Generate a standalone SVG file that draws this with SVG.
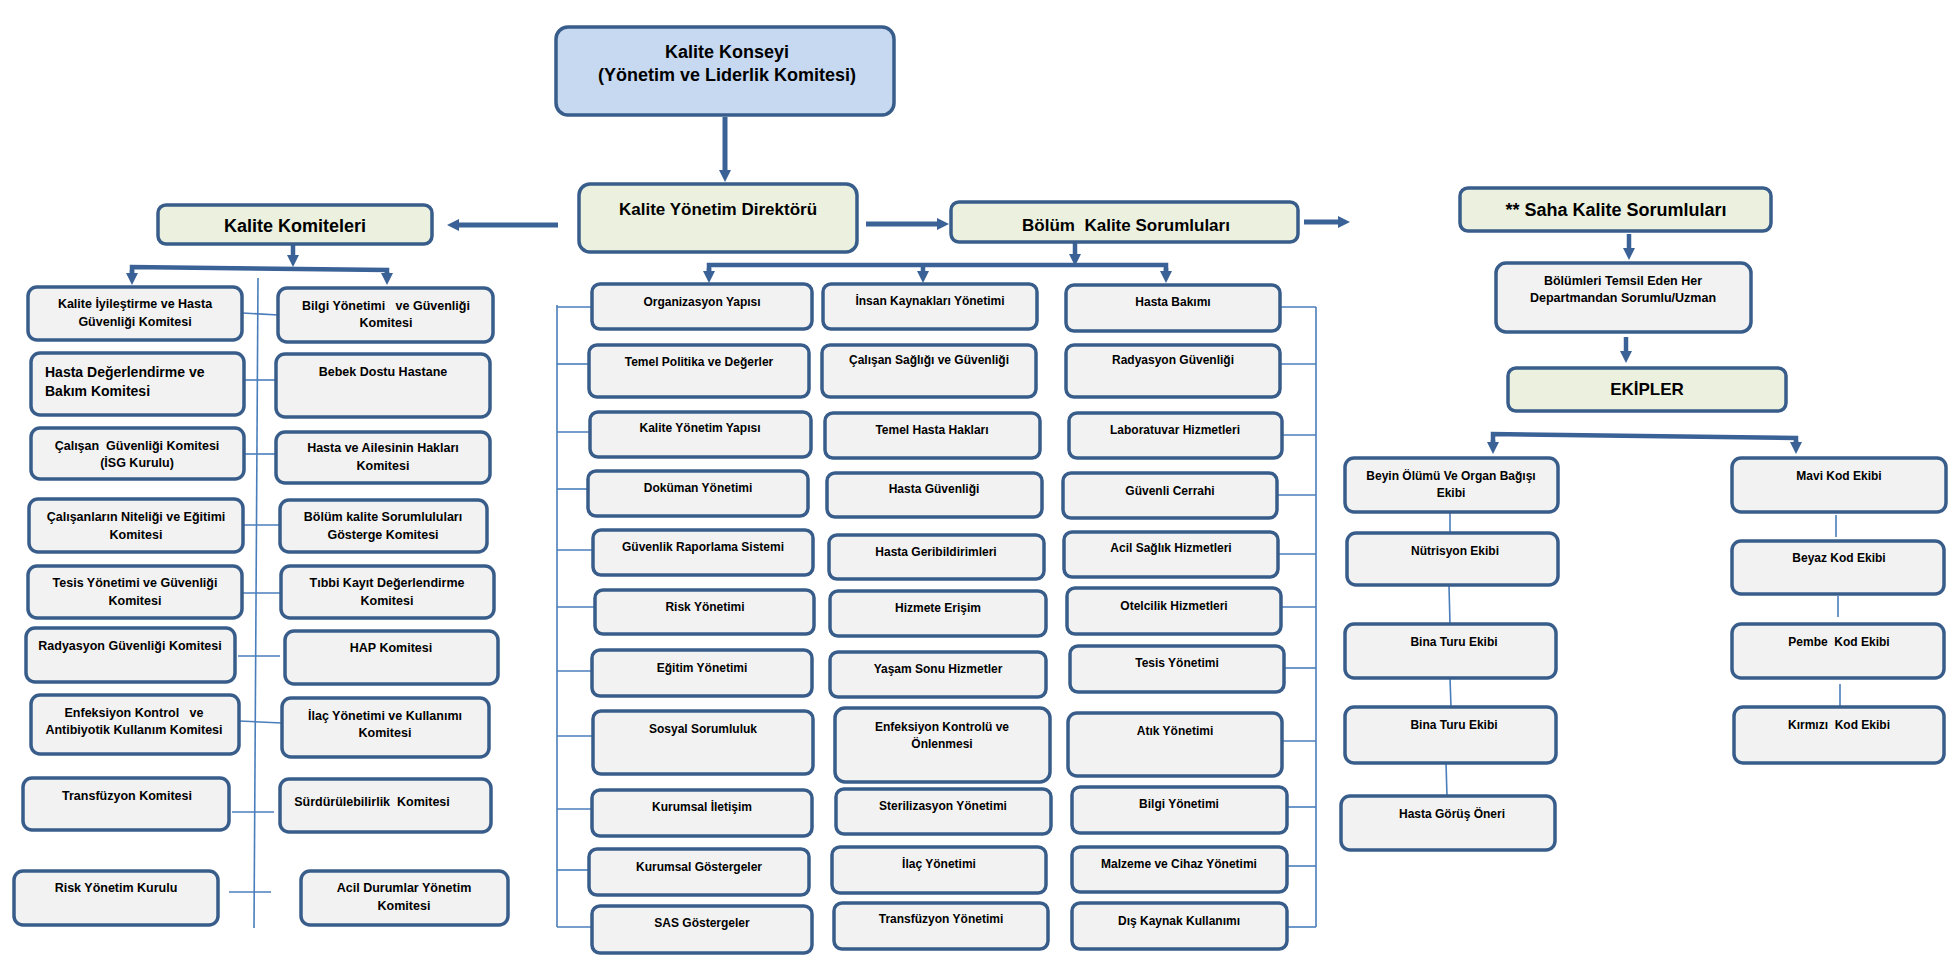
<svg xmlns="http://www.w3.org/2000/svg" width="1960" height="976" viewBox="0 0 1960 976">
<style>
rect{stroke:#385d8a;stroke-width:3.5}
.b{fill:#f2f2f2}
.h{fill:#ebf1de}
.k{fill:#c6d9f1}
text{font-family:"Liberation Sans",Arial,sans-serif;font-weight:bold;fill:#000;text-anchor:middle}
.s12{font-size:12px}
.s125{font-size:12.5px}
.s14{font-size:14px;text-anchor:start}
.s17{font-size:17px}
.s18{font-size:18px}
.c line,.c polyline{stroke:#4a7ebb;stroke-width:1.6;fill:none}
.c .a{stroke:#3a6296;stroke-width:5;fill:none}
.c .a4{stroke:#3a6296;stroke-width:4.5;fill:none}
</style>
<defs>
<marker id="ah" viewBox="0 0 12 12" refX="4" refY="6" markerWidth="12" markerHeight="12" markerUnits="userSpaceOnUse" orient="auto">
<path d="M0,0 L12,6 L0,12 z" fill="#3a6296"/>
</marker>
</defs>
<rect width="1960" height="976" fill="#fff" style="stroke:none"/>

<g class="c" id="connectors">
<!-- thick arrows -->
<line class="a" x1="725" y1="117" x2="725" y2="174" marker-end="url(#ah)"/>
<line class="a" x1="866" y1="224" x2="941" y2="224" marker-end="url(#ah)"/>
<line class="a" x1="1304" y1="222" x2="1342" y2="222" marker-end="url(#ah)"/>
<line class="a" x1="558" y1="225" x2="455" y2="225" marker-end="url(#ah)"/>
<!-- Kalite Komiteleri branch -->
<line class="a4" x1="293" y1="245" x2="293" y2="259" marker-end="url(#ah)"/>
<polyline class="a4" points="132,277 132,267 387,270 387,277"/>
<line class="a4" x1="132" y1="270" x2="132" y2="277" marker-end="url(#ah)"/>
<line class="a4" x1="387" y1="272" x2="387" y2="277" marker-end="url(#ah)"/>
<!-- Bolum branch -->
<line class="a4" x1="1075" y1="243" x2="1075" y2="258" marker-end="url(#ah)"/>
<polyline class="a4" points="709,275 709,265 1166,265 1166,275"/>
<line class="a4" x1="923" y1="265" x2="923" y2="275" marker-end="url(#ah)"/>
<line class="a4" x1="709" y1="268" x2="709" y2="275" marker-end="url(#ah)"/>
<line class="a4" x1="1166" y1="268" x2="1166" y2="275" marker-end="url(#ah)"/>
<!-- Saha branch -->
<line class="a4" x1="1629" y1="234" x2="1629" y2="252" marker-end="url(#ah)"/>
<line class="a4" x1="1626" y1="337" x2="1626" y2="355" marker-end="url(#ah)"/>
<polyline class="a4" points="1493,446 1493,434 1796,438 1796,446"/>
<line class="a4" x1="1493" y1="440" x2="1493" y2="446" marker-end="url(#ah)"/>
<line class="a4" x1="1796" y1="441" x2="1796" y2="446" marker-end="url(#ah)"/>
<!-- left committees spine -->
<line x1="258" y1="278" x2="254" y2="928"/>
<line x1="242" y1="313" x2="278" y2="315"/>
<line x1="244" y1="380" x2="276" y2="380"/>
<line x1="244" y1="454" x2="276" y2="454"/>
<line x1="243" y1="525" x2="280" y2="525"/>
<line x1="242" y1="593" x2="281" y2="593"/>
<line x1="238" y1="656" x2="280" y2="656"/>
<line x1="239" y1="721" x2="282" y2="723"/>
<line x1="232" y1="812" x2="274" y2="812"/>
<line x1="229" y1="892" x2="271" y2="892"/>
<!-- middle left bracket -->
<line x1="557" y1="305" x2="557" y2="927"/>
<line x1="557" y1="307" x2="592" y2="307"/>
<line x1="557" y1="364" x2="589" y2="364"/>
<line x1="557" y1="432" x2="590" y2="432"/>
<line x1="557" y1="489" x2="588" y2="489"/>
<line x1="557" y1="550" x2="593" y2="550"/>
<line x1="557" y1="607" x2="595" y2="607"/>
<line x1="557" y1="671" x2="592" y2="671"/>
<line x1="557" y1="736" x2="593" y2="736"/>
<line x1="557" y1="809" x2="592" y2="809"/>
<line x1="557" y1="870" x2="589" y2="870"/>
<line x1="557" y1="927" x2="592" y2="927"/>
<!-- middle right bracket -->
<line x1="1316" y1="307" x2="1316" y2="927"/>
<line x1="1280" y1="307" x2="1316" y2="307"/>
<line x1="1280" y1="364" x2="1316" y2="364"/>
<line x1="1282" y1="435" x2="1316" y2="435"/>
<line x1="1277" y1="495" x2="1316" y2="495"/>
<line x1="1278" y1="554" x2="1316" y2="554"/>
<line x1="1281" y1="607" x2="1316" y2="607"/>
<line x1="1284" y1="668" x2="1316" y2="668"/>
<line x1="1282" y1="741" x2="1316" y2="741"/>
<line x1="1287" y1="807" x2="1316" y2="807"/>
<line x1="1287" y1="866" x2="1316" y2="866"/>
<line x1="1287" y1="927" x2="1316" y2="927"/>
<!-- teams -->
<line x1="1450" y1="512" x2="1450" y2="533"/>
<line x1="1449" y1="586" x2="1450" y2="624"/>
<line x1="1450" y1="678" x2="1451" y2="707"/>
<line x1="1446" y1="763" x2="1447" y2="796"/>
<line x1="1836" y1="515" x2="1836" y2="537"/>
<line x1="1838" y1="596" x2="1838" y2="617"/>
<line x1="1840" y1="684" x2="1840" y2="707"/>
</g>

<!-- top -->
<g id="kalite-konseyi"><rect class="k" x="556" y="27" width="338" height="88" rx="12"/>
<text class="s18" x="727" y="58">Kalite Konseyi</text><text class="s18" x="727" y="81">(Yönetim ve Liderlik Komitesi)</text></g>
<g id="direktor"><rect class="h" x="579" y="184" width="278" height="68" rx="11"/>
<text class="s17" x="718" y="215">Kalite Yönetim Direktörü</text></g>
<g id="bolum-kalite"><rect class="h" x="951" y="202" width="347" height="40" rx="8"/>
<text class="s17" x="1126" y="231" xml:space="preserve">Bölüm  Kalite Sorumluları</text></g>
<g id="kalite-komiteleri"><rect class="h" x="158" y="205" width="274" height="39" rx="8"/>
<text class="s18" x="295" y="232">Kalite Komiteleri</text></g>

<!-- left committees -->
<g id="l1"><rect class="b" x="28" y="287" width="214" height="53" rx="9"/><text class="s125" x="135" y="308">Kalite İyileştirme ve Hasta</text><text class="s125" x="135" y="326">Güvenliği Komitesi</text></g>
<g id="l2"><rect class="b" x="31" y="353" width="213" height="62" rx="9"/><text class="s14" x="45" y="377">Hasta Değerlendirme ve</text><text class="s14" x="45" y="396">Bakım Komitesi</text></g>
<g id="l3"><rect class="b" x="31" y="428" width="213" height="51" rx="9"/><text class="s125" x="137" y="450" xml:space="preserve">Çalışan  Güvenliği Komitesi</text><text class="s125" x="137" y="467">(İSG Kurulu)</text></g>
<g id="l4"><rect class="b" x="29" y="499" width="214" height="53" rx="9"/><text class="s125" x="136" y="521">Çalışanların Niteliği ve Eğitimi</text><text class="s125" x="136" y="539">Komitesi</text></g>
<g id="l5"><rect class="b" x="28" y="566" width="214" height="52" rx="9"/><text class="s125" x="135" y="587">Tesis Yönetimi ve Güvenliği</text><text class="s125" x="135" y="605">Komitesi</text></g>
<g id="l6"><rect class="b" x="26" y="628" width="209" height="54" rx="9"/><text class="s125" x="130" y="650">Radyasyon Güvenliği Komitesi</text></g>
<g id="l7"><rect class="b" x="31" y="695" width="208" height="59" rx="9"/><text class="s125" x="134" y="717" xml:space="preserve">Enfeksiyon Kontrol   ve</text><text class="s125" x="134" y="734">Antibiyotik Kullanım Komitesi</text></g>
<g id="l8"><rect class="b" x="23" y="778" width="206" height="52" rx="9"/><text class="s125" x="127" y="800">Transfüzyon Komitesi</text></g>
<g id="l9"><rect class="b" x="14" y="871" width="204" height="54" rx="9"/><text class="s125" x="116" y="892">Risk Yönetim Kurulu</text></g>

<!-- right committees -->
<g id="r1"><rect class="b" x="278" y="288" width="215" height="54" rx="9"/><text class="s125" x="386" y="310" xml:space="preserve">Bilgi Yönetimi   ve Güvenliği</text><text class="s125" x="386" y="327">Komitesi</text></g>
<g id="r2"><rect class="b" x="276" y="354" width="214" height="63" rx="9"/><text class="s125" x="383" y="376">Bebek Dostu Hastane</text></g>
<g id="r3"><rect class="b" x="276" y="432" width="214" height="51" rx="9"/><text class="s125" x="383" y="452">Hasta ve Ailesinin Hakları</text><text class="s125" x="383" y="470">Komitesi</text></g>
<g id="r4"><rect class="b" x="280" y="500" width="207" height="52" rx="9"/><text class="s125" x="383" y="521">Bölüm kalite Sorumluluları</text><text class="s125" x="383" y="539">Gösterge Komitesi</text></g>
<g id="r5"><rect class="b" x="281" y="566" width="213" height="52" rx="9"/><text class="s125" x="387" y="587">Tıbbi Kayıt Değerlendirme</text><text class="s125" x="387" y="605">Komitesi</text></g>
<g id="r6"><rect class="b" x="285" y="631" width="213" height="53" rx="9"/><text class="s125" x="391" y="652">HAP Komitesi</text></g>
<g id="r7"><rect class="b" x="282" y="698" width="207" height="59" rx="9"/><text class="s125" x="385" y="720">İlaç Yönetimi ve Kullanımı</text><text class="s125" x="385" y="737">Komitesi</text></g>
<g id="r8"><rect class="b" x="280" y="779" width="211" height="53" rx="9"/><text class="s125" x="372" y="806" xml:space="preserve">Sürdürülebilirlik  Komitesi</text></g>
<g id="r9"><rect class="b" x="301" y="871" width="207" height="54" rx="9"/><text class="s125" x="404" y="892">Acil Durumlar Yönetim</text><text class="s125" x="404" y="910">Komitesi</text></g>

<!-- middle column 1 -->
<g id="m1"><rect class="b" x="592" y="284" width="220" height="45" rx="8"/><text class="s12" x="702" y="306">Organizasyon Yapısı</text></g>
<g id="m2"><rect class="b" x="589" y="345" width="220" height="52" rx="8"/><text class="s12" x="699" y="366">Temel Politika ve Değerler</text></g>
<g id="m3"><rect class="b" x="590" y="412" width="221" height="45" rx="8"/><text class="s12" x="700" y="432">Kalite Yönetim Yapısı</text></g>
<g id="m4"><rect class="b" x="588" y="471" width="220" height="45" rx="8"/><text class="s12" x="698" y="492">Doküman Yönetimi</text></g>
<g id="m5"><rect class="b" x="593" y="530" width="220" height="45" rx="8"/><text class="s12" x="703" y="551">Güvenlik Raporlama Sistemi</text></g>
<g id="m6"><rect class="b" x="595" y="590" width="219" height="44" rx="8"/><text class="s12" x="705" y="611">Risk Yönetimi</text></g>
<g id="m7"><rect class="b" x="592" y="650" width="220" height="46" rx="8"/><text class="s12" x="702" y="672">Eğitim Yönetimi</text></g>
<g id="m8"><rect class="b" x="593" y="711" width="220" height="63" rx="8"/><text class="s12" x="703" y="733">Sosyal Sorumluluk</text></g>
<g id="m9"><rect class="b" x="592" y="790" width="220" height="46" rx="8"/><text class="s12" x="702" y="811">Kurumsal İletişim</text></g>
<g id="m10"><rect class="b" x="589" y="849" width="220" height="46" rx="8"/><text class="s12" x="699" y="871">Kurumsal Göstergeler</text></g>
<g id="m11"><rect class="b" x="592" y="906" width="220" height="47" rx="8"/><text class="s12" x="702" y="927">SAS Göstergeler</text></g>

<!-- middle column 2 -->
<g id="n1"><rect class="b" x="823" y="284" width="214" height="45" rx="8"/><text class="s12" x="930" y="305">İnsan Kaynakları Yönetimi</text></g>
<g id="n2"><rect class="b" x="822" y="345" width="214" height="52" rx="8"/><text class="s12" x="929" y="364">Çalışan Sağlığı ve Güvenliği</text></g>
<g id="n3"><rect class="b" x="825" y="413" width="215" height="45" rx="8"/><text class="s12" x="932" y="434">Temel Hasta Hakları</text></g>
<g id="n4"><rect class="b" x="827" y="473" width="215" height="44" rx="8"/><text class="s12" x="934" y="493">Hasta Güvenliği</text></g>
<g id="n5"><rect class="b" x="829" y="535" width="215" height="44" rx="8"/><text class="s12" x="936" y="556">Hasta Geribildirimleri</text></g>
<g id="n6"><rect class="b" x="830" y="591" width="216" height="45" rx="8"/><text class="s12" x="938" y="612">Hizmete Erişim</text></g>
<g id="n7"><rect class="b" x="830" y="652" width="216" height="45" rx="8"/><text class="s12" x="938" y="673">Yaşam Sonu Hizmetler</text></g>
<g id="n8"><rect class="b" x="835" y="708" width="215" height="74" rx="10"/><text class="s12" x="942" y="731">Enfeksiyon Kontrolü ve</text><text class="s12" x="942" y="748">Önlenmesi</text></g>
<g id="n9"><rect class="b" x="836" y="789" width="215" height="45" rx="8"/><text class="s12" x="943" y="810">Sterilizasyon Yönetimi</text></g>
<g id="n10"><rect class="b" x="832" y="847" width="214" height="46" rx="8"/><text class="s12" x="939" y="868">İlaç Yönetimi</text></g>
<g id="n11"><rect class="b" x="834" y="903" width="214" height="46" rx="8"/><text class="s12" x="941" y="923">Transfüzyon Yönetimi</text></g>

<!-- middle column 3 -->
<g id="p1"><rect class="b" x="1066" y="285" width="214" height="46" rx="8"/><text class="s12" x="1173" y="306">Hasta Bakımı</text></g>
<g id="p2"><rect class="b" x="1066" y="345" width="214" height="52" rx="8"/><text class="s12" x="1173" y="364">Radyasyon Güvenliği</text></g>
<g id="p3"><rect class="b" x="1069" y="413" width="213" height="45" rx="8"/><text class="s12" x="1175" y="434">Laboratuvar Hizmetleri</text></g>
<g id="p4"><rect class="b" x="1063" y="473" width="214" height="45" rx="8"/><text class="s12" x="1170" y="495">Güvenli Cerrahi</text></g>
<g id="p5"><rect class="b" x="1064" y="532" width="214" height="45" rx="8"/><text class="s12" x="1171" y="552">Acil Sağlık Hizmetleri</text></g>
<g id="p6"><rect class="b" x="1067" y="588" width="214" height="46" rx="8"/><text class="s12" x="1174" y="610">Otelcilik Hizmetleri</text></g>
<g id="p7"><rect class="b" x="1070" y="646" width="214" height="46" rx="8"/><text class="s12" x="1177" y="667">Tesis Yönetimi</text></g>
<g id="p8"><rect class="b" x="1068" y="713" width="214" height="63" rx="9"/><text class="s12" x="1175" y="735">Atık Yönetimi</text></g>
<g id="p9"><rect class="b" x="1072" y="787" width="215" height="46" rx="8"/><text class="s12" x="1179" y="808">Bilgi Yönetimi</text></g>
<g id="p10"><rect class="b" x="1072" y="847" width="215" height="45" rx="8"/><text class="s12" x="1179" y="868">Malzeme ve Cihaz Yönetimi</text></g>
<g id="p11"><rect class="b" x="1072" y="903" width="215" height="46" rx="8"/><text class="s12" x="1179" y="925">Dış Kaynak Kullanımı</text></g>

<!-- right section -->
<g id="saha"><rect class="h" x="1460" y="188" width="311" height="43" rx="8"/><text class="s18" x="1616" y="216">** Saha Kalite Sorumluları</text></g>
<g id="temsil"><rect class="b" x="1496" y="263" width="255" height="69" rx="10"/><text class="s125" x="1623" y="285">Bölümleri Temsil Eden Her</text><text class="s125" x="1623" y="302">Departmandan Sorumlu/Uzman</text></g>
<g id="ekipler"><rect class="h" x="1508" y="368" width="278" height="43" rx="8"/><text class="s17" x="1647" y="395">EKİPLER</text></g>
<g id="t1"><rect class="b" x="1345" y="458" width="213" height="54" rx="9"/><text class="s12" x="1451" y="480">Beyin Ölümü Ve Organ Bağışı</text><text class="s12" x="1451" y="497">Ekibi</text></g>
<g id="t2"><rect class="b" x="1347" y="533" width="211" height="52" rx="9"/><text class="s12" x="1455" y="555">Nütrisyon Ekibi</text></g>
<g id="t3"><rect class="b" x="1345" y="624" width="211" height="54" rx="9"/><text class="s12" x="1454" y="646">Bina Turu Ekibi</text></g>
<g id="t4"><rect class="b" x="1345" y="707" width="211" height="56" rx="9"/><text class="s12" x="1454" y="729">Bina Turu Ekibi</text></g>
<g id="t5"><rect class="b" x="1341" y="796" width="214" height="54" rx="9"/><text class="s12" x="1452" y="818">Hasta Görüş Öneri</text></g>
<g id="u1"><rect class="b" x="1732" y="458" width="214" height="54" rx="9"/><text class="s12" x="1839" y="480">Mavi Kod Ekibi</text></g>
<g id="u2"><rect class="b" x="1732" y="541" width="212" height="53" rx="9"/><text class="s12" x="1839" y="562">Beyaz Kod Ekibi</text></g>
<g id="u3"><rect class="b" x="1732" y="624" width="212" height="54" rx="9"/><text class="s12" x="1839" y="646" xml:space="preserve">Pembe  Kod Ekibi</text></g>
<g id="u4"><rect class="b" x="1734" y="707" width="210" height="56" rx="9"/><text class="s12" x="1839" y="729" xml:space="preserve">Kırmızı  Kod Ekibi</text></g>
</svg>
